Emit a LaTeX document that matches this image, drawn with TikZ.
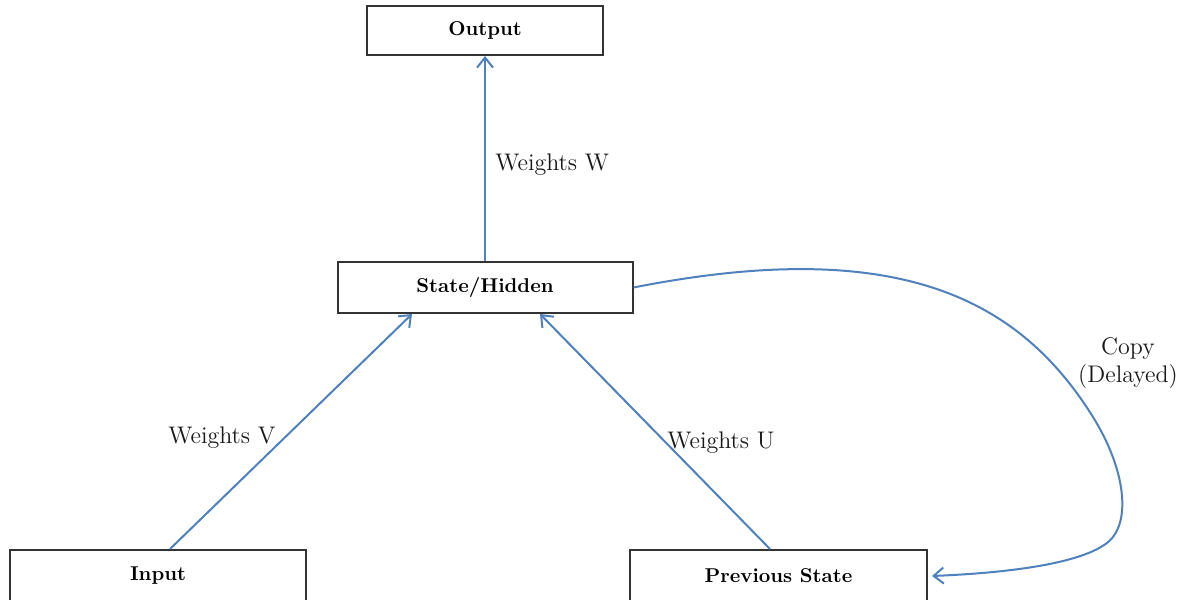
\documentclass[tikz,border=0pt]{standalone}
\usetikzlibrary{arrows.meta}
\definecolor{linkblue}{RGB}{79,129,189}
\begin{document}
\begin{tikzpicture}[x=0.5pt,y=-0.5pt,
  box/.style={draw=black!80,line width=1pt,fill=white,inner sep=0pt,font=\bfseries\fontsize{10}{12}\selectfont},
  link/.style={draw=linkblue,line width=1pt,-{Straight Barb[length=5pt,width=8pt]}},
  lbl/.style={font=\fontsize{12}{14}\selectfont,inner sep=0pt,text=black!90}]
\clip (0,0) rectangle (1190,600);
\fill[white] (0,0) rectangle (1190,600);
\node[box,minimum width=118pt,minimum height=24.5pt] (out) at (485,30.5) {Output};
\node[box,minimum width=147.5pt,minimum height=25.5pt] (st) at (485,287.5) {State/Hidden};
\node[box,minimum width=148pt,minimum height=26pt] (in) at (158,576) {Input};
\node[box,minimum width=148.5pt,minimum height=26pt] (prev) at (778.5,576) {Previous State};
\draw[link] (st.north) -- (out.south);
\draw[link] ([xshift=6pt]in.north) -- ([xshift=-36.5pt]st.south);
\draw[link] ([xshift=-4.25pt]prev.north) -- ([xshift=27.5pt]st.south);
\coordinate (c1) at (1093,417);
\coordinate (c2) at (1113,537);
\draw[link] (st.east) .. controls (900,235) and (1020,300) .. (c1)
  .. controls (1124,467) and (1130,515) .. (c2)
  .. controls (1096,559) and (1030,572) .. ([xshift=2pt]prev.east);
\node[lbl,anchor=west] (lw) at (495,165) {Weights W};
\node[lbl,anchor=west] (lv) at (168,438) {Weights V};
\node[lbl,anchor=west] (lu) at (667,443) {Weights U};
\node[lbl,align=center] (lc) at (1128,363) {Copy\\(Delayed)};
\end{tikzpicture}
\end{document}
